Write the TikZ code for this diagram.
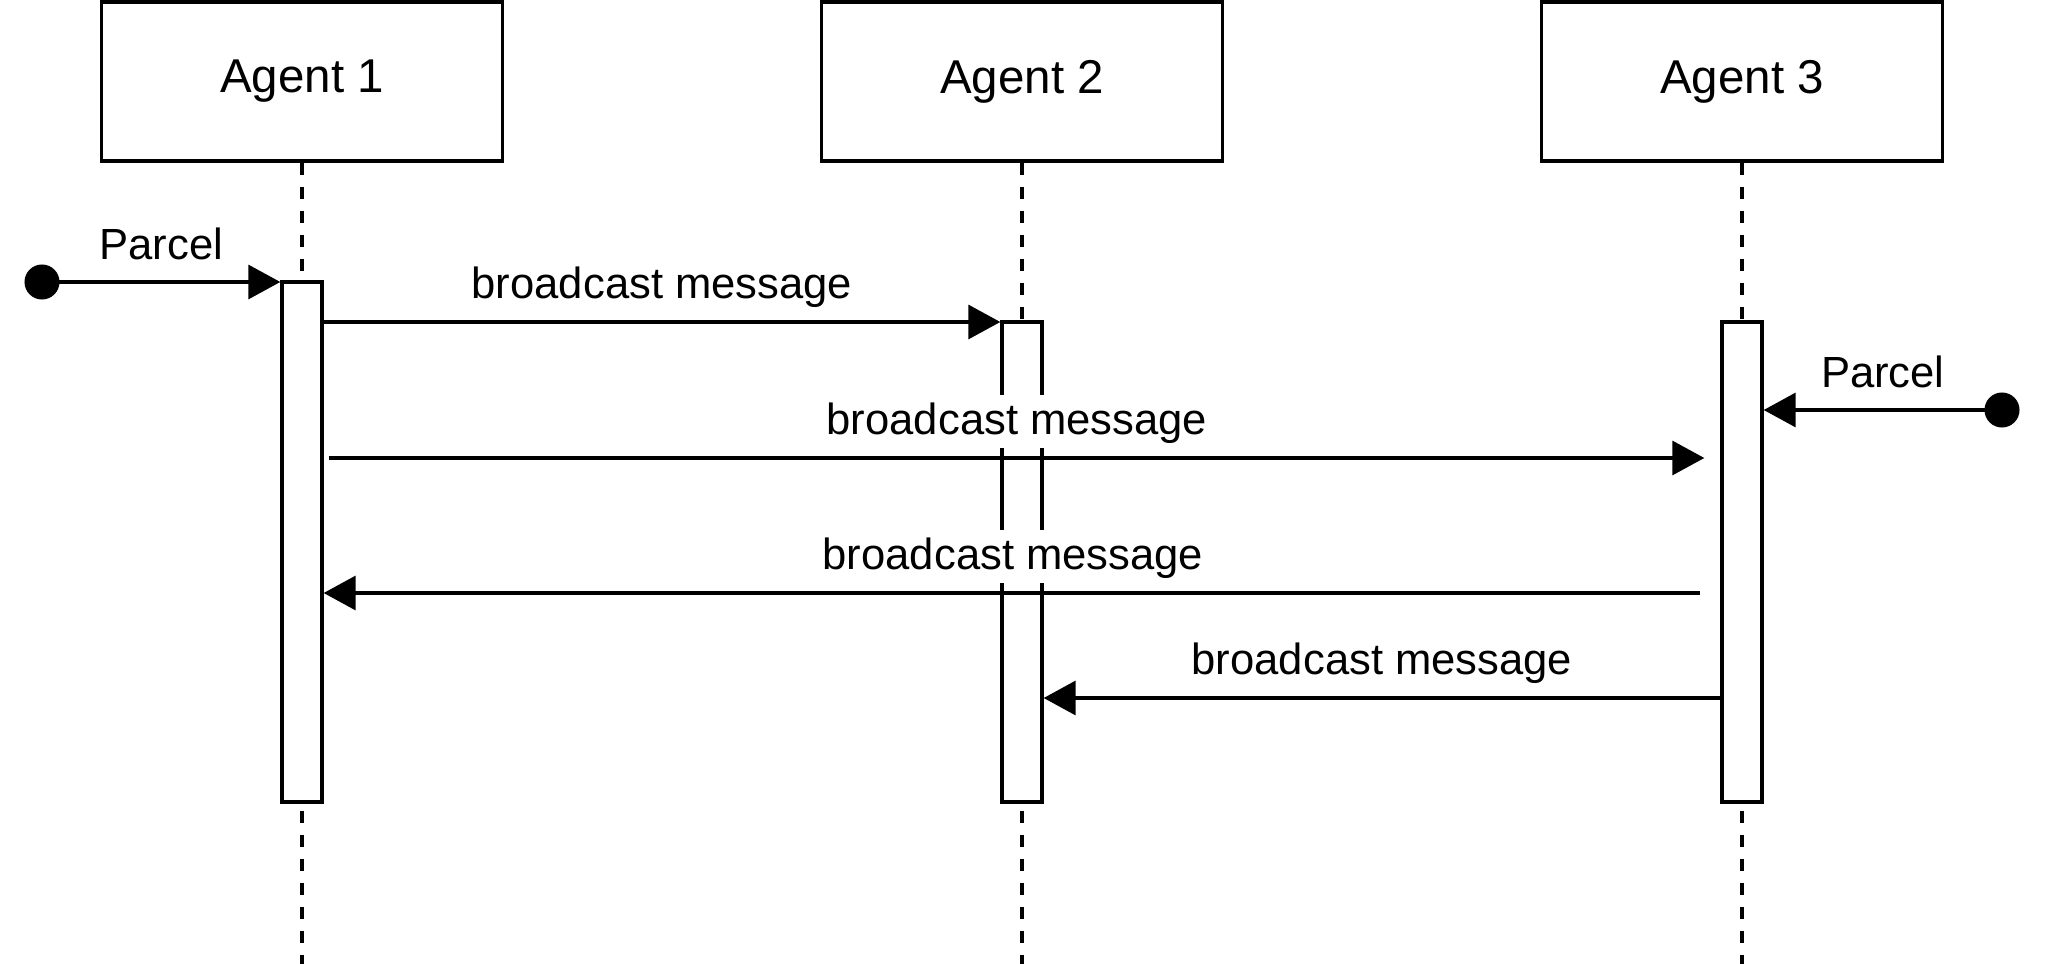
\documentclass[tikz,border=0pt]{standalone}
\usepackage{fontspec}
\setmainfont{Liberation Sans}
\usetikzlibrary{arrows.meta}

\begin{document}
\begin{tikzpicture}[x=0.01cm, y=-0.01cm, line width=0.95pt,
		agent/.style={draw, fill=white, minimum width=4.01cm, minimum height=1.59cm, inner sep=0pt, font=\fontsize{13.5}{16}\selectfont},
		activation/.style={draw, fill=white, minimum width=0.40cm, inner sep=0pt},
		lifeline/.style={dash pattern=on 0.12cm off 0.12cm},
		msg/.style={-{Triangle[length=0.32cm, width=0.34cm]}},
		dot/.style={circle, fill=black, minimum size=0.35cm, inner sep=0pt},
		lbl/.style={fill=white, inner sep=0pt, text height=0.40cm, text depth=0.13cm, font=\fontsize{12.4}{15}\selectfont}]
			\useasboundingbox (0,0) rectangle (2048,964);
			\coordinate (bottom) at (0,964);
			\node[agent] (agent1) at (302,81.5) {Agent 1};
			\node[agent] (agent2) at (1022,81.5) {Agent 2};
			\node[agent] (agent3) at (1742,81.5) {Agent 3};
			\draw[lifeline] (agent1) -- (agent1 |- bottom);
			\draw[lifeline] (agent2) -- (agent2 |- bottom);
			\draw[lifeline] (agent3) -- (agent3 |- bottom);
			\node[activation, minimum height=5.20cm] (act1) at (302,542) {};
			\node[activation, minimum height=4.80cm] (act2) at (1022,562) {};
			\node[activation, minimum height=4.80cm] (act3) at (1742,562) {};
			\node[dot] (parcel1) at (42,282) {};
			\node[dot] (parcel3) at (2002,410) {};
			\coordinate (m1) at (0,322);
			\coordinate (m2) at (0,458);
			\coordinate (m3) at (0,593);
			\coordinate (m4) at (0,698);
			\draw[msg] (parcel1.center) -- (act1.west |- parcel1) node[lbl, midway, anchor=base, yshift=0.22cm] {Parcel};
			\draw[msg] (parcel3.center) -- (act3.east |- parcel3) node[lbl, midway, anchor=base, yshift=0.22cm] {Parcel};
			\draw[msg] (act1.east |- m1) -- (act2.west |- m1) node[lbl, midway, anchor=base, yshift=0.23cm] {broadcast message};
			\draw[msg, shorten <=0.05cm, shorten >=0.16cm] (act1.east |- m2) -- (act3.west |- m2) node[lbl, midway, anchor=base, yshift=0.23cm, xshift=-0.05cm] {broadcast message};
			\draw[msg, shorten <=0.20cm] (act3.west |- m3) -- (act1.east |- m3) node[lbl, midway, anchor=base, yshift=0.23cm, xshift=-0.09cm] {broadcast message};
			\draw[msg] (act3.west |- m4) -- (act2.east |- m4) node[lbl, midway, anchor=base, yshift=0.23cm] {broadcast message};
		\end{tikzpicture}
\end{document}
